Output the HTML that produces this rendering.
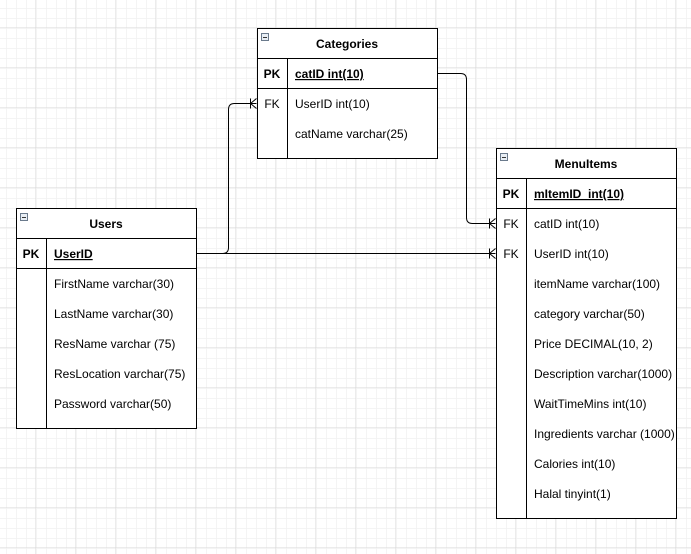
<!DOCTYPE html>
<html><head><meta charset="utf-8"><style>
html,body{margin:0;padding:0;background:#fff;}
svg{display:block;}
text{font-family:"Liberation Sans",Arial,sans-serif;font-size:12px;fill:#000;}
.b{font-weight:bold;}
</style></head><body>
<svg width="691" height="554" xmlns="http://www.w3.org/2000/svg">
<defs>
<pattern id="minor" x="6" y="8" width="10" height="10" patternUnits="userSpaceOnUse">
<path d="M0 0H10M0 0V10" stroke="#f1f1f1" stroke-width="1.5" fill="none"/>
</pattern>
<pattern id="major" x="-4.5" y="-12.5" width="40" height="40" patternUnits="userSpaceOnUse">
<path d="M0 0H40M0 0V40" stroke="#d9d9d9" stroke-width="1" fill="none"/>
</pattern>
</defs>
<rect width="691" height="554" fill="#fff"/>
<rect width="691" height="554" fill="url(#minor)"/>
<rect width="691" height="554" fill="url(#major)"/>

<g fill="none" stroke="#000" stroke-width="1">
<!-- connectors -->
<path d="M196.5 253.5H222.5Q228.5 253.5 228.5 247.5V109.5Q228.5 103.5 234.5 103.5H256.5"/>
<path d="M196.5 253.5H495.5"/>
<path d="M437.5 73.5H460.5Q466.5 73.5 466.5 79.5V217.5Q466.5 223.5 472.5 223.5H495.5"/>
<!-- crow feet -->
<path d="M250.5 98.5V108.5M250.5 103.5L256.5 98.5M250.5 103.5L256.5 108.5"/>
<path d="M489.5 218.5V228.5M489.5 223.5L495.5 218.5M489.5 223.5L495.5 228.5"/>
<path d="M489.5 248.5V258.5M489.5 253.5L495.5 248.5M489.5 253.5L495.5 258.5"/>
</g>

<!-- Categories -->
<g stroke="#000" fill="#fff">
<rect x="257.5" y="28.5" width="180" height="130"/>
</g>
<g stroke="#000" fill="none">
<path d="M257.5 58.5H437.5M257.5 88.5H437.5M287.5 58.5V158.5"/>
</g>
<rect x="261.5" y="33.5" width="7" height="7" fill="#e8eef5" stroke="#6a7a8c"/>
<path d="M263 37.5H267" stroke="#333"/>
<text class="b" x="347" y="48" text-anchor="middle">Categories</text>
<text class="b" x="272" y="78" text-anchor="middle">PK</text>
<text class="b" x="295" y="78" text-decoration="underline">catID int(10)</text>
<text x="272" y="108" text-anchor="middle">FK</text>
<text x="295" y="108">UserID int(10)</text>
<text x="295" y="138">catName varchar(25)</text>

<!-- Users -->
<rect x="16.5" y="208.5" width="180" height="220" fill="#fff" stroke="#000"/>
<path d="M16.5 238.5H196.5M16.5 268.5H196.5M46.5 238.5V428.5" stroke="#000" fill="none"/>
<rect x="20.5" y="213.5" width="7" height="7" fill="#e8eef5" stroke="#6a7a8c"/>
<path d="M22 217.5H26" stroke="#333"/>
<text class="b" x="106" y="228" text-anchor="middle">Users</text>
<text class="b" x="31" y="258" text-anchor="middle">PK</text>
<text class="b" x="54" y="258" text-decoration="underline">UserID</text>
<text x="54" y="288">FirstName varchar(30)</text>
<text x="54" y="318">LastName varchar(30)</text>
<text x="54" y="348">ResName varchar (75)</text>
<text x="54" y="378">ResLocation varchar(75)</text>
<text x="54" y="408">Password varchar(50)</text>

<!-- MenuItems -->
<rect x="496.5" y="148.5" width="180" height="370" fill="#fff" stroke="#000"/>
<path d="M496.5 178.5H676.5M496.5 208.5H676.5M526.5 178.5V518.5" stroke="#000" fill="none"/>
<rect x="500.5" y="153.5" width="7" height="7" fill="#e8eef5" stroke="#6a7a8c"/>
<path d="M502 157.5H506" stroke="#333"/>
<text class="b" x="586" y="168" text-anchor="middle">MenuItems</text>
<text class="b" x="511" y="198" text-anchor="middle">PK</text>
<text class="b" x="534" y="198" text-decoration="underline" xml:space="preserve">mItemID  int(10)</text>
<text x="511" y="228" text-anchor="middle">FK</text>
<text x="534" y="228">catID int(10)</text>
<text x="511" y="258" text-anchor="middle">FK</text>
<text x="534" y="258">UserID int(10)</text>
<text x="534" y="288">itemName varchar(100)</text>
<text x="534" y="318">category varchar(50)</text>
<text x="534" y="348">Price DECIMAL(10, 2)</text>
<text x="534" y="378">Description varchar(1000)</text>
<text x="534" y="408">WaitTimeMins int(10)</text>
<text x="534" y="438">Ingredients varchar (1000)</text>
<text x="534" y="468">Calories int(10)</text>
<text x="534" y="498">Halal tinyint(1)</text>
</svg>
</body></html>
